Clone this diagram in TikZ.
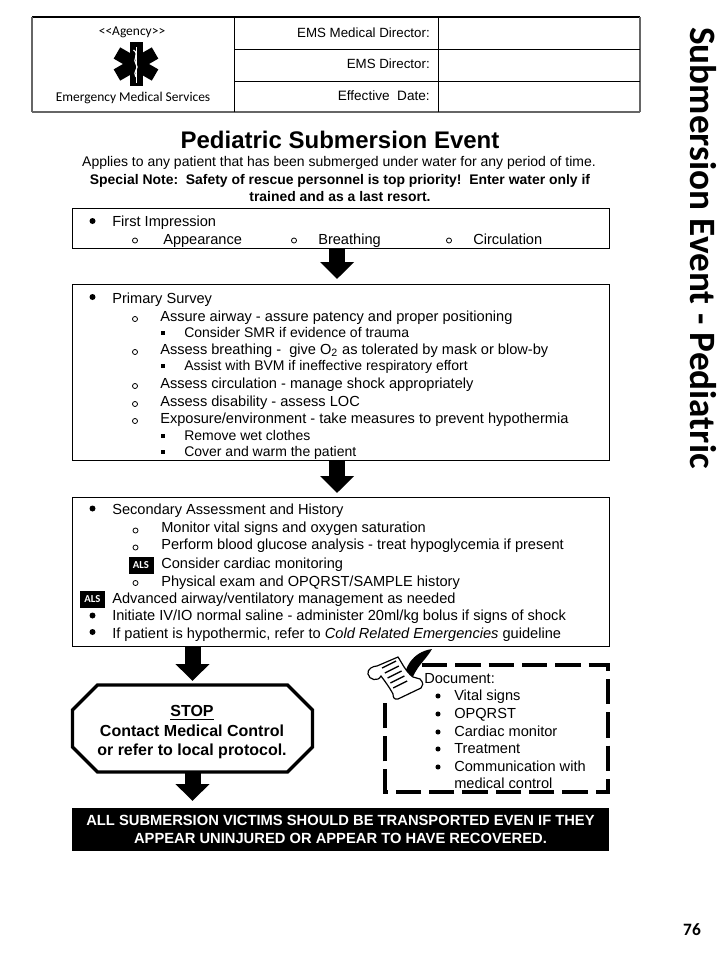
\documentclass[tikz,border=0pt]{standalone}
\usepackage{fontspec}
\usetikzlibrary{arrows.meta}
\setmainfont{Liberation Sans}
\newfontfamily\carlito{Carlito}
\tikzset{
	x=0.75pt, y=-0.75pt,
	txt/.style={anchor=base west, inner sep=0pt, font=\fontsize{10.95}{12}\selectfont},
	subtxt/.style={txt, font=\fontsize{10.5}{12}\selectfont},
	boxed/.style={draw, line width=0.75pt, inner sep=0pt, outer sep=0pt, minimum width=402.75pt},
	headtxt/.style={anchor=base east, inner sep=0pt, font=\fontsize{10}{12}\selectfont},
	agencytxt/.style={inner sep=0pt, font=\carlito\fontsize{10.1}{12}\selectfont},
	als/.style={fill=black, text=white, inner sep=0pt, minimum width=18.75pt, minimum height=12.75pt, font=\carlito\bfseries\fontsize{8}{9}\selectfont},
	bigdot/.style={fill=black, circle, inner sep=0pt, minimum size=4.5pt},
	smalldot/.style={draw, circle, inner sep=0pt, minimum size=3.8pt, line width=0.6pt},
	sqdot/.style={fill=black, inner sep=0pt, minimum size=3pt},
	blockarrow/.style={-{Triangle[width=24.75pt,length=12.75pt]}, line width=12pt}
}
\begin{document}
\begin{tikzpicture}
	\useasboundingbox (0,0) rectangle (720,960);
	% header table
	\draw[line width=0.9pt] (32,17) -- (640,17);
	\draw[line width=1.1pt,black!60] (32,112) -- (640,112);
	\draw[line width=1.1pt,black!60] (32,17) -- (32,112);
	\draw[line width=1.1pt,black!60] (640,17) -- (640,112);
	\draw[line width=0.6pt] (234,17) -- (234,112);
	\draw[line width=0.6pt] (438,17) -- (438,112);
	\draw[line width=0.6pt] (234,49) -- (640,49);
	\draw[line width=0.6pt] (234,81) -- (640,81);
	\node[agencytxt] (agency) at (132,32) {<{}<Agency>{}>};
	\node[agencytxt] (ems) at (133,98) {Emergency Medical Services};
	% star of life
	\foreach \a in {0,60,120} {
		\fill[rotate around={\a:(136,64)}] (129.5,42) rectangle (142.5,86);
	}
	\draw[white, line width=0.5pt] (136,47) -- (136,83);
	\draw[white, line width=0.9pt] (133.5,50) .. controls (140,54) and (132,60) .. (136,64) .. controls (140,68) and (132,72) .. (136,77);
	\node[headtxt] (director) at (430,37) {EMS Medical Director:};
	\node[headtxt] (emsdir) at (430,68) {EMS Director:};
	\node[headtxt, font=\fontsize{10.2}{12}\selectfont] (effective) at (430,100) {Effective\ \ Date:};
	% side title and page number
	\node[rotate=-90, anchor=base west, inner sep=0pt, font=\carlito\bfseries\fontsize{27.9}{30}\selectfont] (side) at (690,27) {Submersion Event - Pediatric};
	\node[inner sep=0pt, font=\carlito\bfseries\fontsize{13}{15}\selectfont] (page) at (692,930) {76};
	% title
	\node[inner sep=0pt, font=\bfseries\fontsize{18}{20}\selectfont] (title) at (340,140) {Pediatric Submersion Event};
	\node[inner sep=0pt, font=\fontsize{10.5}{12}\selectfont] (applies) at (339,163) {Applies to any patient that has been submerged under water for any period of time.};
	\node[inner sep=0pt, align=center, font=\bfseries\fontsize{10.45}{12.75}\selectfont] (note) at (340,188) {Special Note:\ \ Safety of rescue personnel is top priority!\ \ Enter water only if\\trained and as a last resort.};
	% first impression
	\node[boxed, minimum height=30pt] (firstbox) at (340.5,228) {};
	\node[bigdot] (b1) at (92.5,221) {};
	\node[txt] (t1) at (112,226) {First Impression};
	\node[smalldot] (c1) at (135,240.5) {};
	\node[txt] (t2) at (163,244) {Appearance};
	\node[smalldot] (c2) at (294,240.5) {};
	\node[txt] (t3) at (318,244) {Breathing};
	\node[smalldot] (c3) at (449,240.5) {};
	\node[txt] (t4) at (473,244) {Circulation};
	% primary survey
	\node[boxed, minimum height=132pt] (primarybox) at (340.5,372) {};
	\node[bigdot] (p0) at (92.5,297) {};
	\node[txt] (pt0) at (112,303) {Primary Survey};
	\foreach \nm/\y/\txt in {a/321/Assure airway - assure patency and proper positioning,
		b/354/{Assess breathing -\ \ give O\textsubscript{2} as tolerated by mask or blow-by},
		c/388/Assess circulation - manage shock appropriately,
		d/406/Assess disability\ - assess LOC,
		e/423/{Exposure/environment - take measures to prevent hypothermia}} {
		\node[smalldot] (dot\nm) at (135,\y-2) {};
		\node[txt] (txt\nm) at (160,\y) {\txt};
	}
	\foreach \nm/\y/\txt in {f/337/Consider SMR if evidence of trauma,
		g/370/Assist with BVM if ineffective respiratory effort,
		h/440/Remove wet clothes,
		i/456/Cover and warm the patient} {
		\node[sqdot] (dot\nm) at (163,\y-4) {};
		\node[subtxt] (txt\nm) at (184,\y) {\txt};
	}
	% secondary assessment
	\node[boxed, minimum height=111.75pt] (secondbox) at (340.5,571.5) {};
	\node[bigdot] (s0) at (92.5,508.5) {};
	\node[txt] (st0) at (112,514.5) {Secondary Assessment and History};
	\node[smalldot] (s1) at (135.5,530.5) {};
	\node[txt] (st1) at (161,532) {Monitor vital signs and oxygen saturation};
	\node[smalldot] (s2) at (135.5,547.5) {};
	\node[txt] (st2) at (161,549.5) {Perform blood glucose analysis - treat hypoglycemia if present};
	\node[als] (als1) at (141,565) {ALS};
	\node[txt] (st3) at (161,568) {Consider cardiac monitoring};
	\node[smalldot] (s4) at (135.5,583) {};
	\node[txt] (st4) at (161,586) {Physical exam and OPQRST/SAMPLE history};
	\node[als] (als2) at (92.5,599) {ALS};
	\node[txt] (st5) at (112,603) {Advanced airway/ventilatory management as needed};
	\node[bigdot] (s6) at (92.5,615.5) {};
	\node[txt] (st6) at (112,620) {Initiate IV/IO normal saline\ - administer 20ml/kg bolus\ if signs of shock};
	\node[bigdot] (s7) at (92.5,632) {};
	\node[txt] (st7) at (112,638) {If patient is hypothermic, refer to \textit{Cold Related Emergencies} guideline};
	% stop octagon
	\node[inner sep=0pt, outer sep=0pt, minimum width=180pt, minimum height=65.25pt] (stopbox) at (192.5,728.5) {};
	\draw[line width=2.5pt, line join=miter] ([xshift=18.75pt]stopbox.north west) -- ([xshift=-18.75pt]stopbox.north east) -- ([yshift=-18.75pt]stopbox.north east) -- ([yshift=18.75pt]stopbox.south east) -- ([xshift=-18.75pt]stopbox.south east) -- ([xshift=18.75pt]stopbox.south west) -- ([yshift=18.75pt]stopbox.south west) -- ([yshift=-18.75pt]stopbox.north west) -- cycle;
	\node[inner sep=0pt, align=center, font=\bfseries\fontsize{12}{14.6}\selectfont] (stop) at (192,732.5) {\underline{STOP}\\Contact Medical Control\\or refer to local protocol.};
	% document box
	\coordinate (docstart) at (422,665);
	\coordinate (docend) at (385,703);
	\draw[line width=2.6pt, dash pattern=on 19pt off 6pt] (docstart) -| (608,792) -| (docend);
	\node[txt] (doc) at (424,683) {Document:};
	\foreach \nm/\y/\txt in {v/700/Vital signs,o/718/OPQRST,m/736/Cardiac monitor,r/753/Treatment,k/771/Communication with} {
		\node[bigdot, minimum size=3.8pt] (ddot\nm) at (438,\y-4) {};
		\node[txt] (dtxt\nm) at (454,\y) {\txt};
	}
	\node[txt] (dlast) at (454,788) {medical control};
	% scroll and quill
	\fill (403,684) .. controls (404,668) and (412,652) .. (432,649) .. controls (426,660) and (416,666) .. (411,682) -- cycle;
	\draw[line width=0.9pt, fill=white] (377,666) -- (398,657) .. controls (402,663) and (406,672) .. (413,677) -- (420,679) .. controls (424,683) and (423,686) .. (421,688) -- (398,699) .. controls (394,700) and (393,697) .. (393,694) .. controls (390,688) and (384,680) .. (381,676) .. controls (378,682) and (369,680) .. (368,674) .. controls (367,669) and (373,666) .. (377,666) -- cycle;
	\foreach \i in {0,1,2,3,4} {
		\draw[line width=1pt] ({382+\i*2.8},{668+\i*5}) -- ({396+\i*2.8},{661+\i*5});
	}
	% bottom banner
	\node[fill=black, text=white, minimum width=402.75pt, minimum height=32.25pt, inner sep=0pt, outer sep=0pt, align=center, font=\bfseries\fontsize{11.05}{13.5}\selectfont] (banner) at (340.5,829.5) {ALL SUBMERSION VICTIMS SHOULD BE TRANSPORTED EVEN IF THEY\\APPEAR UNINJURED OR APPEAR TO HAVE RECOVERED.};
	% arrows
	\draw[blockarrow, shorten >=3.75pt] ([xshift=-2.6pt]firstbox.south) -- ([xshift=-2.6pt]primarybox.north);
	\draw[blockarrow, shorten >=3pt] ([xshift=-2.6pt]primarybox.south) -- ([xshift=-2.6pt]secondbox.north);
	\draw[blockarrow, shorten >=3pt] (secondbox.south -| stopbox.north) -- (stopbox.north);
	\draw[blockarrow, shorten >=5.25pt] (stopbox.south) -- (stopbox.south |- banner.north);
\end{tikzpicture}
\end{document}
